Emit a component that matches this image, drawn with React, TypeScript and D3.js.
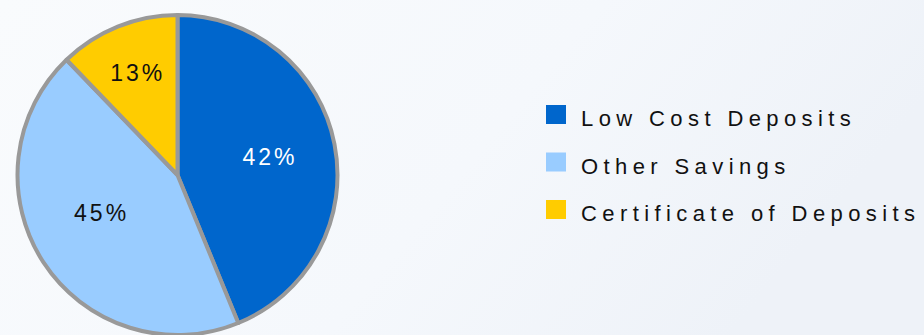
import React from "react";
import * as d3 from "d3";

const categories = ["Low Cost Deposits", "Other Savings", "Certificate of Deposits"];
const values = [43.8, 44.0, 12.2];
const sliceLabels = ["42%", "45%", "13%"];
const colors = ["#0066CC", "#99CCFF", "#FFCC00"];
const labelColors = ["#ffffff", "#111111", "#111111"];

const W = 924;
const H = 335;
const cx = 177.5;
const cy = 175;
const R = 160;
const labelRadiusFactor = [0.58, 0.54, 0.69];
const labelAngleShiftDeg = [0, 6.8, 0];

export default function App() {
  const pie = d3.pie<number>().sort(null).value((d) => d)(values);
  const arc = d3.arc<d3.PieArcDatum<number>>().innerRadius(0).outerRadius(R);

  const legendY = d3.scaleLinear().domain([0, 2]).range([126, 221]);

  return (
    <svg
      width={W}
      height={H}
      style={{ position: "absolute", left: 0, top: 0, display: "block" }}
      fontFamily="'Liberation Sans', Arial, sans-serif"
    >
      <defs>
        <linearGradient id="bg" x1="0" y1="0" x2="1" y2="0.3">
          <stop offset="0" stopColor="#f9fbfd" />
          <stop offset="0.6" stopColor="#f5f8fc" />
          <stop offset="1" stopColor="#eef2f8" />
        </linearGradient>
      </defs>
      <rect x={0} y={0} width={W} height={H} fill="url(#bg)" />
      <g transform={`translate(${cx},${cy})`}>
        {pie.map((p, i) => (
          <path
            key={i}
            d={arc(p) || ""}
            fill={colors[i]}
            stroke="#999999"
            strokeWidth={4}
            strokeLinejoin="round"
          />
        ))}
        {pie.map((p, i) => {
          const a = (p.startAngle + p.endAngle) / 2 + (labelAngleShiftDeg[i] * Math.PI) / 180;
          const r = R * labelRadiusFactor[i];
          const lx = r * Math.sin(a);
          const ly = -r * Math.cos(a);
          return (
            <text
              key={"l" + i}
              x={lx + 1.5}
              y={ly}
              dy="0.35em"
              textAnchor="middle"
              fontSize={23}
              letterSpacing={3}
              fill={labelColors[i]}
            >
              {sliceLabels[i]}
            </text>
          );
        })}
      </g>
      <g>
        {categories.map((c, i) => (
          <g key={c}>
            <rect x={546} y={legendY(i) - 21} width={20} height={19} fill={colors[i]} />
            <text x={581} y={legendY(i)} fontSize={22} letterSpacing={5.4} fill="#111111">
              {c}
            </text>
          </g>
        ))}
      </g>
    </svg>
  );
}
